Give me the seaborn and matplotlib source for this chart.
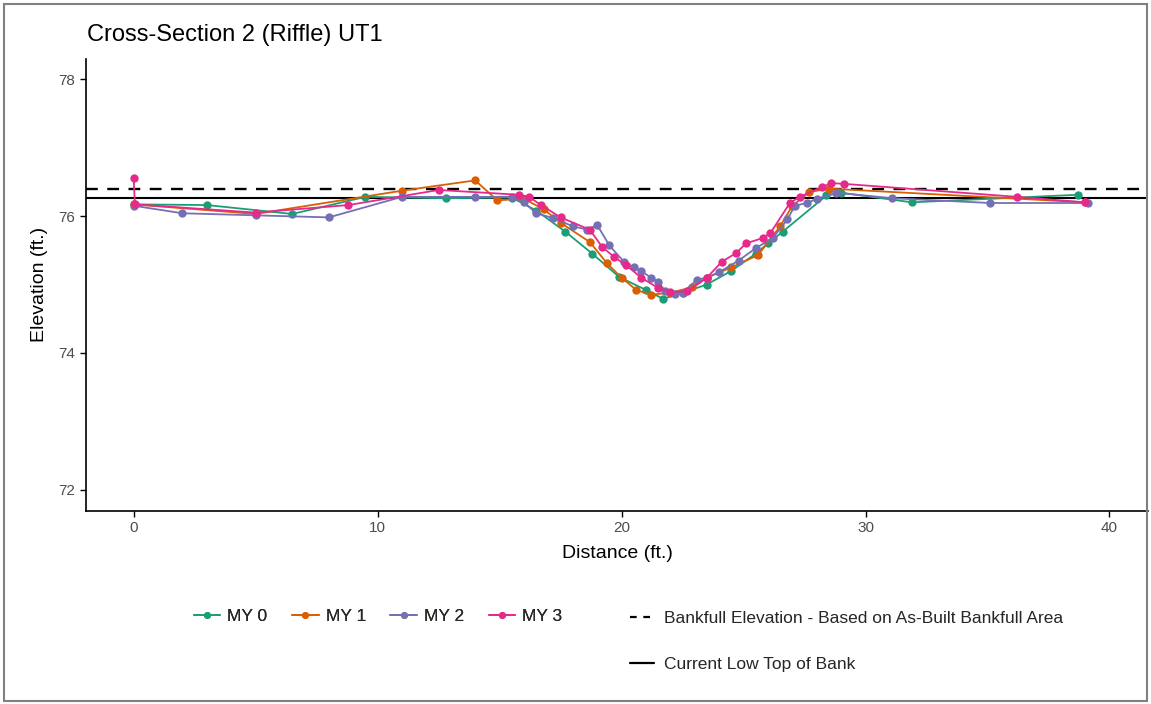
import numpy as np
import pandas as pd
import matplotlib
matplotlib.use('Agg')
import matplotlib.pyplot as plt
from matplotlib.lines import Line2D
from matplotlib.patches import Rectangle
import seaborn as sns

# survey data (distance ft, elevation ft)
my0_x = [0, 3.0, 6.5, 9.5, 12.8, 15.5, 16.5, 17.7, 18.8, 19.9, 21.0, 21.7, 22.5, 23.5, 24.5, 25.5, 26.0, 26.6, 28.4, 29.0, 31.9, 38.7]
my0_y = [76.17, 76.16, 76.03, 76.28, 76.26, 76.27, 76.08, 75.77, 75.45, 75.11, 74.92, 74.79, 74.88, 75.0, 75.2, 75.45, 75.6, 75.77, 76.3, 76.34, 76.2, 76.31]

my1_x = [0, 5.0, 11.0, 14.0, 14.9, 16.0, 16.8, 17.5, 18.7, 19.4, 20.0, 20.6, 21.2, 22.0, 22.9, 23.5, 24.5, 25.6, 26.5, 27.0, 27.7, 28.5, 39.0]
my1_y = [76.17, 76.03, 76.37, 76.52, 76.23, 76.25, 76.1, 75.9, 75.62, 75.31, 75.1, 74.92, 74.85, 74.88, 74.96, 75.1, 75.25, 75.43, 75.85, 76.15, 76.35, 76.4, 76.2]

my2_x = [0, 2.0, 5.0, 8.0, 11.0, 14.0, 15.5, 16.0, 16.5, 17.2, 18.0, 18.6, 19.0, 19.5, 20.1, 20.5, 20.8, 21.2, 21.5, 21.8, 22.2, 22.5, 23.1, 23.5, 24.0, 24.8, 25.5, 26.2, 26.8, 27.1, 27.6, 28.0, 28.8, 31.1, 35.1, 39.1]
my2_y = [76.15, 76.04, 76.01, 75.98, 76.28, 76.28, 76.28, 76.2, 76.04, 75.97, 75.85, 75.8, 75.87, 75.57, 75.33, 75.25, 75.2, 75.1, 75.04, 74.9, 74.86, 74.88, 75.07, 75.1, 75.18, 75.35, 75.53, 75.68, 75.95, 76.15, 76.19, 76.25, 76.34, 76.26, 76.19, 76.19]

my3_x = [0, 0.05, 5.0, 8.8, 12.5, 15.8, 16.2, 16.7, 17.5, 18.7, 19.2, 19.7, 20.2, 20.8, 21.5, 22.0, 22.7, 23.5, 24.1, 24.7, 25.1, 25.8, 26.1, 26.9, 27.3, 28.2, 28.6, 29.1, 36.2, 39.0]
my3_y = [76.55, 76.17, 76.05, 76.16, 76.38, 76.31, 76.28, 76.16, 75.98, 75.8, 75.55, 75.4, 75.28, 75.1, 74.95, 74.89, 74.9, 75.1, 75.33, 75.46, 75.6, 75.68, 75.75, 76.19, 76.28, 76.42, 76.48, 76.47, 76.28, 76.2]

series_names = ['MY 0', 'MY 1', 'MY 2', 'MY 3']
series_colors = ['#1B9E77', '#D95F02', '#7570B3', '#E7298A']

bankfull_elev = 76.39
low_top_bank = 76.26

frames = []
for name, xs, ys in zip(series_names, [my0_x, my1_x, my2_x, my3_x], [my0_y, my1_y, my2_y, my3_y]):
    frames.append(pd.DataFrame({'Distance': xs, 'Elevation': ys, 'Survey': name}))
df = pd.concat(frames, ignore_index=True)

sns.set_theme(style='white')
plt.rcParams['font.family'] = ['Liberation Sans', 'DejaVu Sans']

fig = plt.figure(figsize=(11.51, 7.04), dpi=100)
ax = fig.add_axes([86 / 1151, 1 - 510.5 / 704, (1148 - 86) / 1151, (510.5 - 58.5) / 704])

ax.axhline(bankfull_elev, color='black', lw=1.7, ls=(0, (5, 4)), zorder=1)
ax.axhline(low_top_bank, color='black', lw=1.5, zorder=1)

sns.lineplot(data=df, x='Distance', y='Elevation', hue='Survey', hue_order=series_names,
             palette=series_colors, marker='o', markersize=6, markeredgewidth=0,
             linewidth=1.3, sort=False, estimator=None, legend=False, ax=ax, zorder=3)

ax.set_xlim(-1.955, 41.58)
ax.set_ylim(71.7, 78.3)
ax.set_xticks([0, 10, 20, 30, 40])
ax.set_yticks([72, 74, 76, 78])
ax.set_xlabel('Distance (ft.)', fontsize=14, color='black', labelpad=7)
ax.set_ylabel('Elevation (ft.)', fontsize=14, color='black', labelpad=8)
ax.tick_params(axis='both', which='both', length=4, width=1, color='black',
               labelsize=11, labelcolor='#4D4D4D', direction='out', bottom=True, left=True)
for side in ['top', 'right']:
    ax.spines[side].set_visible(False)
for side in ['left', 'bottom']:
    ax.spines[side].set_color('black')
    ax.spines[side].set_linewidth(1.2)

fig.text(87 / 1151, 1 - 35 / 704, 'Cross-Section 2 (Riffle) UT1', fontsize=17,
         ha='left', va='center', color='black')

survey_handles = [Line2D([0], [0], color=c, marker='o', markersize=4, lw=1.3) for c in series_colors]
leg1 = fig.legend(survey_handles, series_names, loc='center', bbox_to_anchor=(378 / 1151, 1 - 616 / 704),
                  ncol=4, frameon=False, fontsize=12.5, handlelength=1.55, handletextpad=0.4,
                  columnspacing=1.4)
ref_handles = [Line2D([0], [0], color='black', lw=1.6, ls=(0, (3, 3))),
               Line2D([0], [0], color='black', lw=1.6)]
ref_labels = ['Bankfull Elevation - Based on As-Built Bankfull Area', 'Current Low Top of Bank']
fig.legend(ref_handles, ref_labels, loc='upper left', bbox_to_anchor=(614 / 1151, 1 - 595 / 704),
           ncol=1, frameon=False, fontsize=12.5, handlelength=1.4, handletextpad=0.6,
           labelspacing=1.8)
fig.add_artist(leg1)

fig.patches.append(Rectangle((4 / 1151, 3 / 704), 1143 / 1151, 697 / 704, transform=fig.transFigure,
                             fill=False, edgecolor='#808080', lw=1.5, figure=fig))

fig.savefig('out.png', dpi=100)
plt.close(fig)
